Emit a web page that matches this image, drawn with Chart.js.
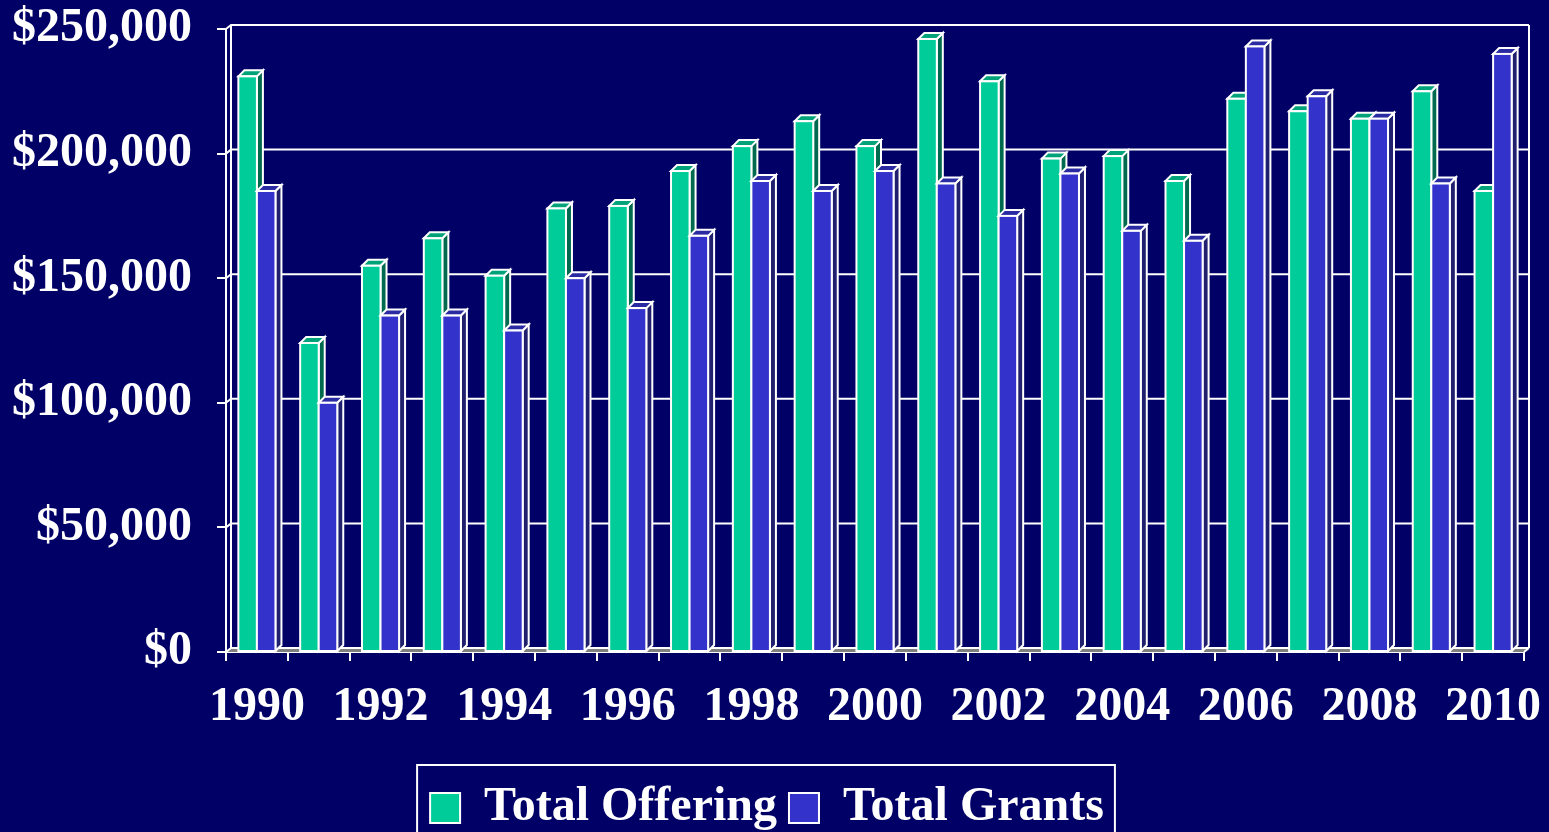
<!DOCTYPE html>
<html>
<head>
<meta charset="utf-8">
<script src="https://cdn.jsdelivr.net/npm/chart.js@4.4.1/dist/chart.umd.min.js"></script>
<style>
  html, body { margin: 0; padding: 0; background: #000066; overflow: hidden; }
  #wrap { width: 1549px; height: 832px; }
</style>
</head>
<body>
<div id="wrap"><canvas id="c" width="1549" height="832"></canvas></div>
<script>
const years = ['1990','1991','1992','1993','1994','1995','1996','1997','1998','1999','2000',
               '2001','2002','2003','2004','2005','2006','2007','2008','2009','2010'];
const totalOffering = [231000,124000,155000,166000,151000,178000,179000,193000,203000,213000,203000,
                       246000,229000,198000,199000,189000,222000,217000,214000,225000,185000];
const totalGrants   = [185000,100000,135000,135000,129000,150000,138000,167000,189000,185000,193000,
                       188000,175000,192000,169000,165000,243000,223000,214000,188000,240000];
const yTicks = [0, 50000, 100000, 150000, 200000, 250000];

const FONT = '"Liberation Serif", "Times New Roman", serif';
const FSIZE = 48;
const DX = 6, DY = 6;       // bar depth
const WX = 5, WY = 4;       // wall offset
const LEGEND_SHIFT = 10;
const faces = [
  { front: '#00cc99', side: '#006a4e', top: '#00a27a' },
  { front: '#3333cc', side: '#20206e', top: '#2a2aa3' }
];

const wallPlugin = {
  id: 'wall',
  afterLayout(chart) {
    const lg = chart.legend;
    if (lg) { lg.top += LEGEND_SHIFT; lg.bottom += LEGEND_SHIFT; }
  },
  beforeDatasetsDraw(chart) {
    const { ctx, chartArea: a, scales: { y } } = chart;
    ctx.save();
    ctx.strokeStyle = '#ffffff';
    ctx.lineWidth = 2;
    // floor
    ctx.fillStyle = '#808080';
    ctx.beginPath();
    ctx.moveTo(a.left, a.bottom);
    ctx.lineTo(a.right, a.bottom);
    ctx.lineTo(a.right + WX, a.bottom - WY);
    ctx.lineTo(a.left + WX, a.bottom - WY);
    ctx.closePath();
    ctx.fill();
    // back gridlines + diagonals
    yTicks.forEach(v => {
      const py = y.getPixelForValue(v);
      ctx.beginPath();
      ctx.moveTo(a.left, py);
      ctx.lineTo(a.left + WX, py - WY);
      ctx.lineTo(a.right + WX, py - WY);
      ctx.stroke();
    });
    // back wall verticals
    const top = y.getPixelForValue(250000) - WY;
    const bot = y.getPixelForValue(0) - WY;
    ctx.beginPath();
    ctx.moveTo(a.left + WX, top); ctx.lineTo(a.left + WX, bot);
    ctx.moveTo(a.right + WX, top); ctx.lineTo(a.right + WX, bot);
    ctx.moveTo(a.right, a.bottom); ctx.lineTo(a.right + WX, bot);
    ctx.stroke();
    ctx.restore();
  },
  afterDatasetsDraw(chart) {
    const { ctx } = chart;
    const metas = [chart.getDatasetMeta(0), chart.getDatasetMeta(1)];
    ctx.save();
    ctx.strokeStyle = '#ffffff';
    ctx.lineWidth = 2;
    ctx.lineJoin = 'miter';
    for (let i = 0; i < years.length; i++) {
      metas.forEach((meta, d) => {
        const f = faces[d];
        const el = meta.data[i];
        const { x, y, base, width } = el.getProps(['x', 'y', 'base', 'width'], true);
        const l = x - width / 2, r = x + width / 2;
        // side face
        ctx.fillStyle = f.side;
        ctx.beginPath();
        ctx.moveTo(r, y);
        ctx.lineTo(r + DX, y - DY);
        ctx.lineTo(r + DX, base - DY);
        ctx.lineTo(r, base);
        ctx.closePath();
        ctx.fill(); ctx.stroke();
        // top face
        ctx.fillStyle = f.top;
        ctx.beginPath();
        ctx.moveTo(l, y);
        ctx.lineTo(l + DX, y - DY);
        ctx.lineTo(r + DX, y - DY);
        ctx.lineTo(r, y);
        ctx.closePath();
        ctx.fill(); ctx.stroke();
        // front face
        ctx.fillStyle = f.front;
        ctx.fillRect(l, y, width, base - y);
        ctx.strokeRect(l, y, width, base - y);
      });
    }
    ctx.restore();
  },
  afterDraw(chart) {
    const lg = chart.legend;
    if (!lg || !lg.legendHitBoxes || !lg.legendHitBoxes.length) return;
    const hb = lg.legendHitBoxes;
    const first = hb[0], last = hb[hb.length - 1];
    const { ctx } = chart;
    ctx.save();
    ctx.strokeStyle = '#ffffff';
    ctx.lineWidth = 2;
    const left = first.left - 13;
    const right = last.left + last.width + 11;
    ctx.strokeRect(left, 765, right - left, 120);
    ctx.restore();
  }
};

Chart.defaults.font.family = FONT;
Chart.defaults.font.weight = 'bold';
Chart.defaults.font.size = FSIZE;
Chart.defaults.color = '#ffffff';

new Chart(document.getElementById('c'), {
  type: 'bar',
  data: {
    labels: years,
    datasets: [
      { label: 'Total Offering', data: totalOffering, backgroundColor: '#00cc99',
        borderColor: '#ffffff', borderWidth: 2, borderSkipped: false },
      { label: 'Total Grants', data: totalGrants, backgroundColor: '#3333cc',
        borderColor: '#ffffff', borderWidth: 2, borderSkipped: false }
    ]
  },
  options: {
    responsive: false,
    animation: false,
    events: [],
    layout: { padding: { left: 10, right: 25, top: 29, bottom: 0 } },
    datasets: { bar: { categoryPercentage: 0.6, barPercentage: 1.0 } },
    plugins: {
      legend: {
        position: 'bottom',
        labels: {
          boxWidth: 30, boxHeight: 30, padding: 12,
          color: '#ffffff',
          font: { family: FONT, size: FSIZE, weight: 'bold' }
        }
      },
      tooltip: { enabled: false }
    },
    scales: {
      x: {
        grid: { drawOnChartArea: false, color: '#ffffff', lineWidth: 2, tickLength: 9, offset: true },
        border: { color: '#ffffff', width: 2 },
        ticks: {
          autoSkip: false, maxRotation: 0, minRotation: 0, padding: 18,
          color: '#ffffff',
          font: { family: FONT, size: FSIZE, weight: 'bold' },
          callback: (v, i) => (i % 2 === 0 ? years[i] : '')
        },
        afterFit: s => {
          s.height = s.chart.height - s.chart.legend.height - 652;
          s.paddingLeft = 0; s.paddingRight = 0;
        }
      },
      y: {
        min: 0, max: 250000,
        grid: { drawOnChartArea: false, color: '#ffffff', lineWidth: 2, tickLength: 9 },
        border: { color: '#ffffff', width: 2 },
        ticks: {
          stepSize: 50000, padding: 25, color: '#ffffff',
          font: { family: FONT, size: FSIZE, weight: 'bold' },
          callback: v => '$' + Number(v).toLocaleString('en-US')
        },
        afterFit: s => { s.width = 216; s.paddingTop = 0; s.paddingBottom = 0; }
      }
    }
  },
  plugins: [wallPlugin]
});
</script>
</body>
</html>
